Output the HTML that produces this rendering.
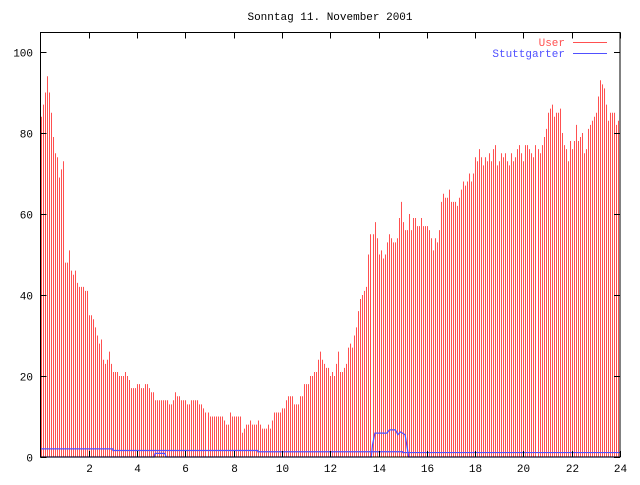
<!DOCTYPE html>
<html><head><meta charset="utf-8"><style>
body{margin:0;background:#fff}
svg text{font-family:"Liberation Mono","DejaVu Sans Mono",monospace;font-size:11px}
</style></head><body>
<svg id="chart" width="640" height="480" viewBox="0 0 640 480" xmlns="http://www.w3.org/2000/svg">
<rect width="640" height="480" fill="#fff"/>
<text x="330" y="20" text-anchor="middle" fill="#000">Sonntag 11. November 2001</text>
<g id="bars"></g>
<g id="lines"></g>
<g id="axes"></g>
<g>
<text x="565" y="46" text-anchor="end" fill="#ff5050">User</text>
<line x1="573" y1="42.5" x2="607" y2="42.5" stroke="#ff5050"/>
<text x="565" y="57" text-anchor="end" fill="#5050ff">Stuttgarter</text>
<line x1="573" y1="53.5" x2="607" y2="53.5" stroke="#5050ff"/>
</g>
</svg>
<script>
const userValues = [84,87,90,94,90,85,79,75,74,69,71,73,48,48,51,46,45,46,43,42,42,42,41,41,35,35,34,32,30,28,29,24,23,24,26,23,
21,21,21,20,20,20,21,20,19,17,17,17,18,18,17,17,18,18,17,16,16,14,14,14,14,14,14,14,13,13,14,16,15,15,14,14,14,13,13,14,14,14,14,13,13,12,11,11,10,10,10,10,10,10,10,9,8,8,
11,10,10,10,10,10,6,7,8,8,9,8,8,8,9,8,7,7,7,8,7,9,11,11,11,11,12,12,14,15,15,15,13,13,13,15,15,18,18,18,20,20,21,21,24,26,24,23,22,22,20,21,20,23,26,21,21,22,23,27,28,27,30,32,36,39,40,41,42,50,55,55,58,54,50,51,49,50,53,55,54,53,53,54,59,63,58,56,56,60,56,59,59,57,57,
59,57,57,57,56,54,51,54,53,56,63,65,64,64,66,63,63,63,62,64,66,68,67,68,70,68,70,74,73,76,74,72,74,73,75,73,76,77,72,73,75,74,75,73,72,75,73,74,76,77,75,73,77,77,76,75,74,77,76,75,77,79,81,85,86,87,84,85,85,86,80,77,76,73,78,76,78,82,78,79,80,75,76,81,82,83,84,85,89,93,92,91,87,83,85,85,85,82,83];
const baseHours = [0,3,3,9,9,15,15,24];
const baseValues = [2,2,1.6,1.6,1.3,1.3,1.1,1.1];
const stgHours = [0,4.7,4.75,5.15,5.2,13.7,13.75,13.85,14.35,14.45,14.7,14.8,14.9,15.1,15.25,15.3,24];
const stgValues = [0,0,0.9,0.9,0,0,3,5.9,5.9,6.7,6.7,5.5,6.2,5.5,0,0,0];
const xTicks = [2,4,6,8,10,12,14,16,18,20,22,24];
const yTicks = [0,20,40,60,80,100];

const X0=40.5,X1=620,Y0=457,Y1=32.5;
const xs=h=>X0+(h/24)*(X1-X0);
const ys=v=>Y0-(v/104.8)*(Y0-Y1);
const NS="http://www.w3.org/2000/svg";
function mk(t,a,p){const e=document.createElementNS(NS,t);for(const k in a)e.setAttribute(k,a[k]);p.appendChild(e);return e;}
const bars=document.getElementById('bars');
userValues.forEach((v,i)=>{
  const x=Math.round(xs(i/12))+0.5;
  const l=mk('line',{x1:x,x2:x,y1:Y0,y2:ys(v),stroke:'#ff5050','stroke-width':1},bars);
  
  
});
const lines=document.getElementById('lines');
function pl(hs,vs,name){
  const p=mk('polyline',{points:hs.map((h,i)=>xs(h)+','+ys(vs[i])).join(' '),fill:'none',stroke:'#5050ff','stroke-width':1.2},lines);
  
  
}
pl(baseHours,baseValues,'stuttgarter-base-line');
pl(stgHours,stgValues,'stuttgarter-line');
const ax=document.getElementById('axes');
const fr=mk('rect',{x:X0,y:Y1,width:X1-X0,height:Y0-Y1,fill:'none',stroke:'#000','stroke-width':1},ax);


yTicks.forEach(v=>{
  const y=Math.round(ys(v))+0.5;
  mk('line',{x1:X0,x2:X0+6,y1:y,y2:y,stroke:'#000'},ax);
  mk('line',{x1:X1-6,x2:X1,y1:y,y2:y,stroke:'#000'},ax);
  const t=mk('text',{x:33,y:y+4,'text-anchor':'end',fill:'#000'},ax);
  t.textContent=v;
  
  
});
xTicks.forEach(h=>{
  const x=Math.round(xs(h))+0.5;
  mk('line',{x1:x,x2:x,y1:Y0,y2:Y0-6,stroke:'#000'},ax);
  mk('line',{x1:x,x2:x,y1:Y1,y2:Y1+6,stroke:'#000'},ax);
  const t=mk('text',{x:x,y:472,'text-anchor':'middle',fill:'#000'},ax);
  t.textContent=h;
  
  
});
</script>
</body></html>
